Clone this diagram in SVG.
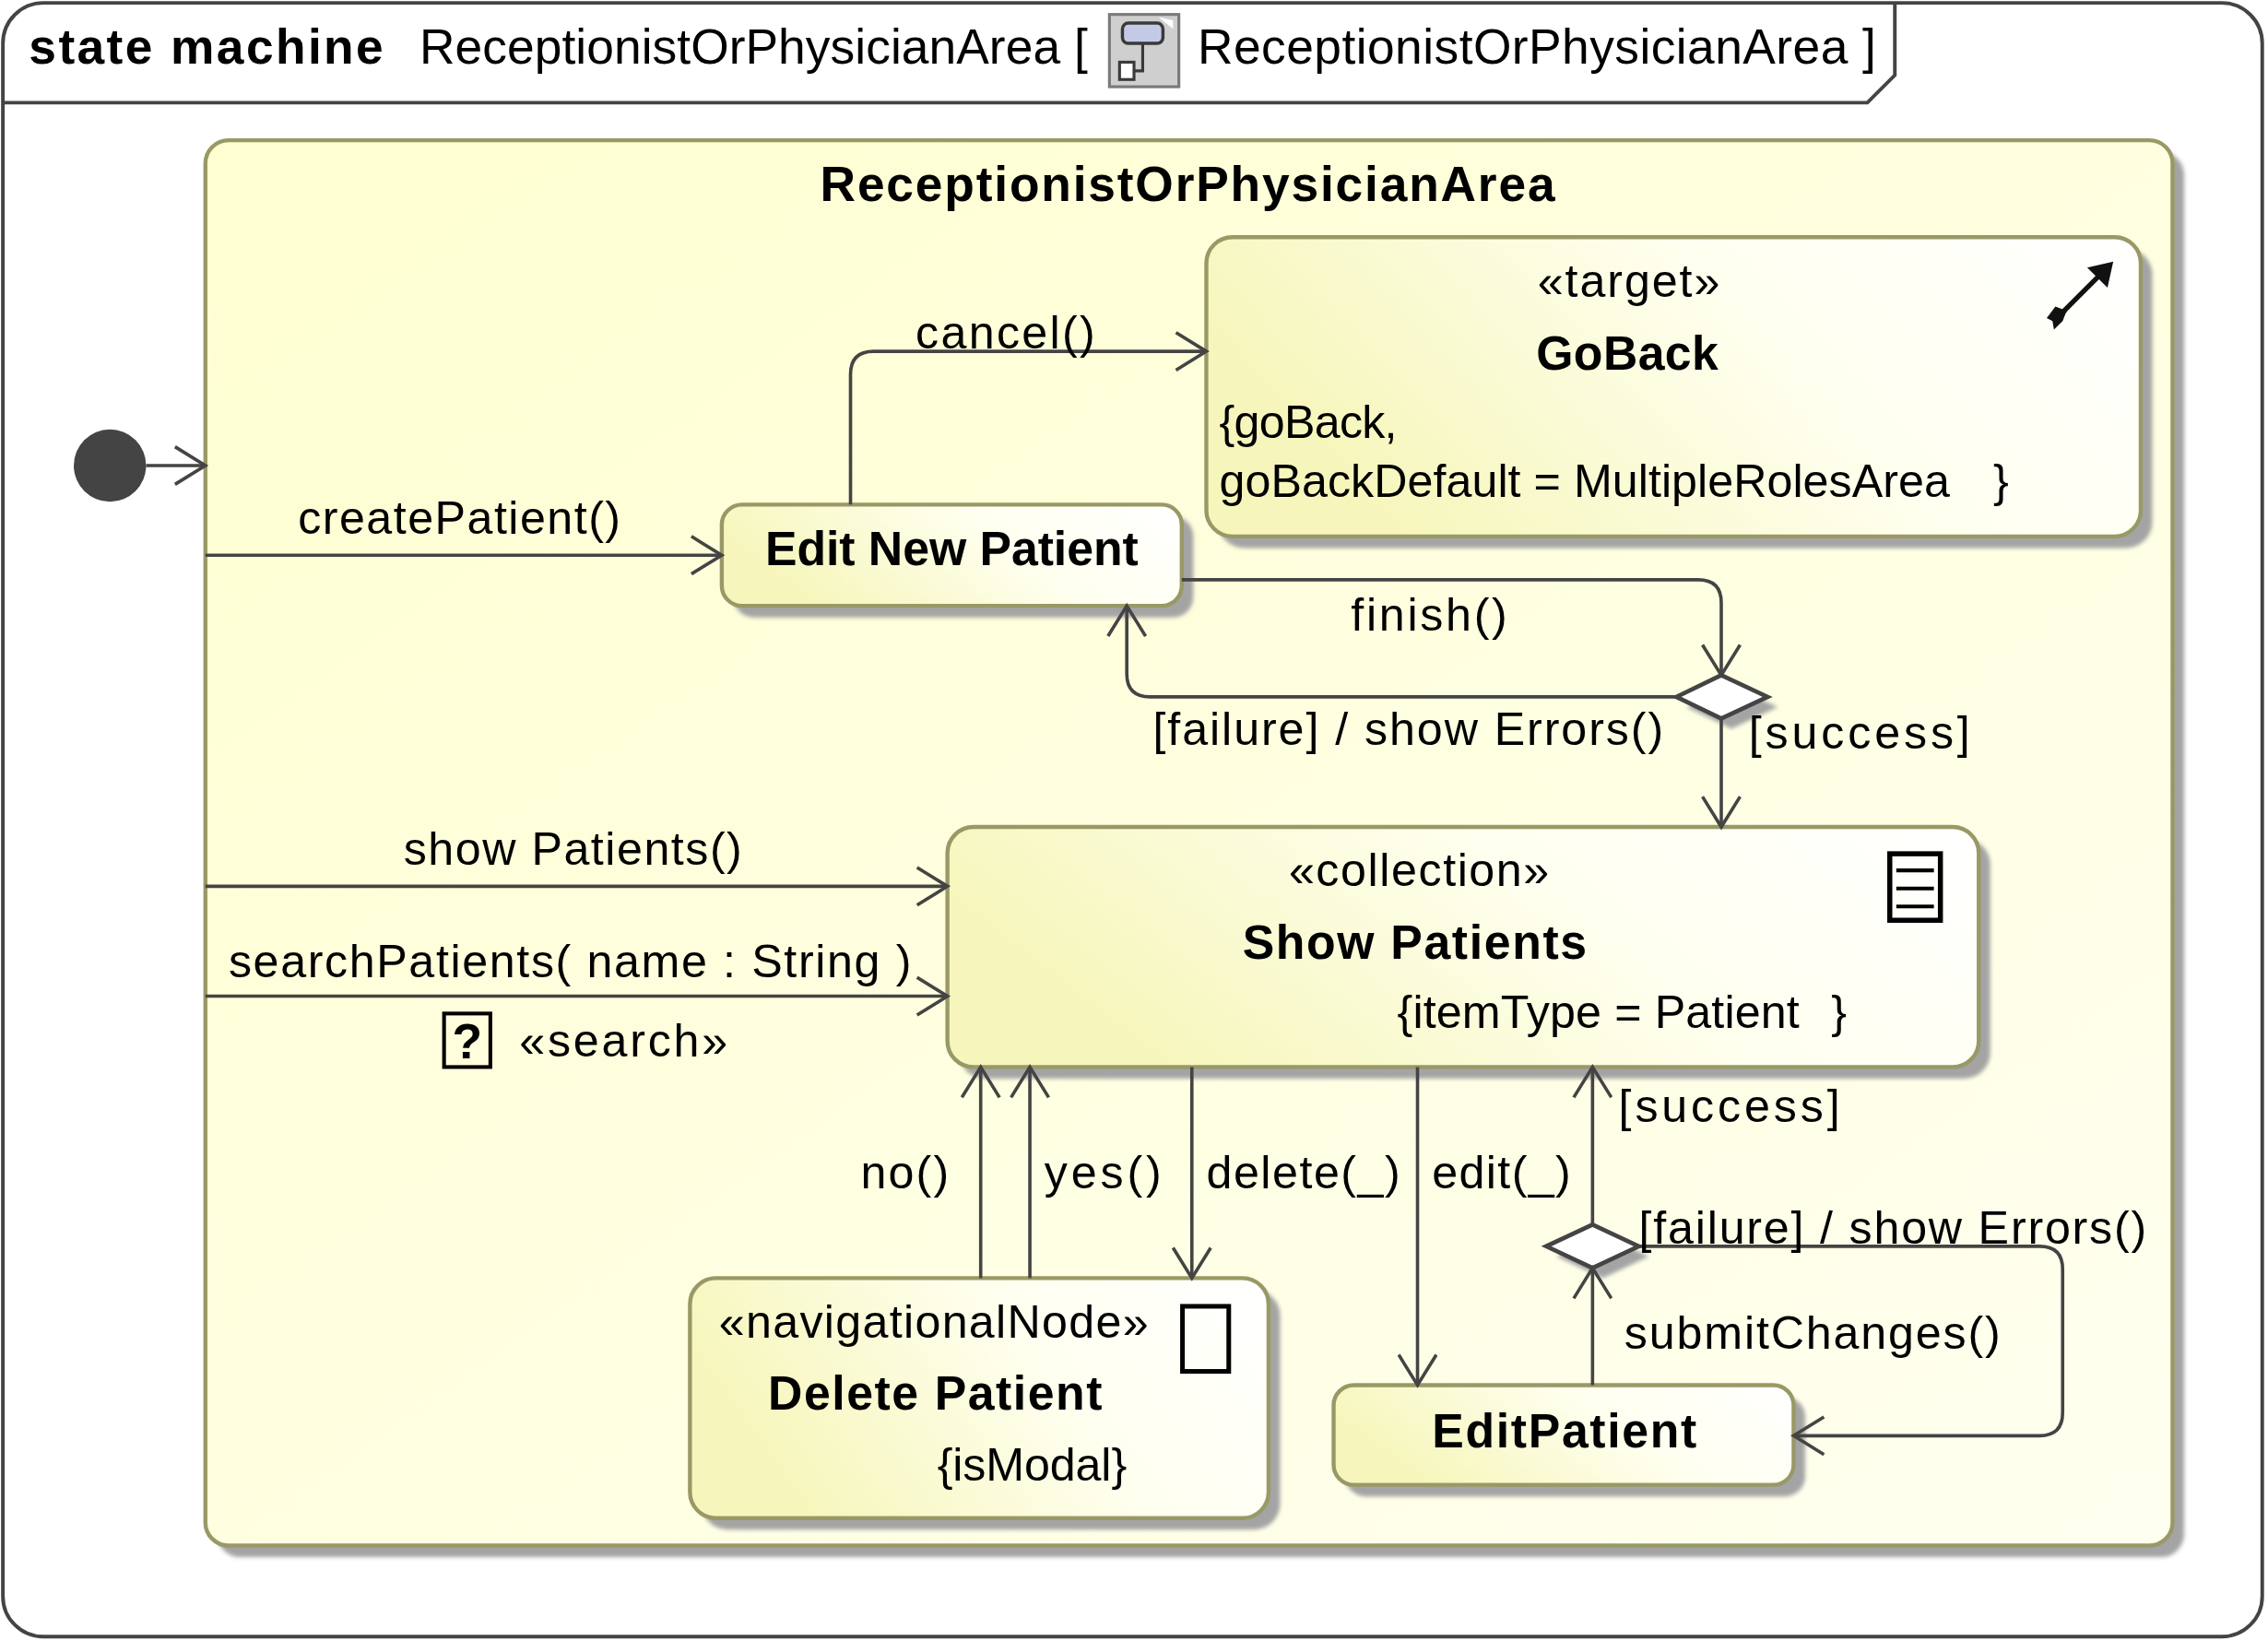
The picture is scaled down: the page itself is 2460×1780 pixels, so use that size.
<svg xmlns="http://www.w3.org/2000/svg" width="2460" height="1780" viewBox="0 0 2460 1780">
<defs>
<style>
.t{font-family:"Liberation Sans",Arial,Helvetica,sans-serif;font-size:32px;fill:#000}
.b{font-weight:bold;font-size:33px}
.h{font-size:34px}
.node{stroke:#999966;stroke-width:2.8}
.shadow{fill:#a4a4a4;filter:url(#blur)}
.conn{fill:none;stroke:#444;stroke-width:2.3}
.icon{fill:none;stroke:#000}
</style>
<linearGradient id="gNode" x1="0" y1="0.3" x2="1" y2="0">
<stop offset="0" stop-color="#f6f6bc"/>
<stop offset="0.55" stop-color="#fffff0"/>
<stop offset="1" stop-color="#ffffff"/>
</linearGradient>
<linearGradient id="gArea" x1="0" y1="0" x2="1" y2="1">
<stop offset="0" stop-color="#fefed0"/>
<stop offset="1" stop-color="#fffff0"/>
</linearGradient>
<filter id="blur" x="-5%" y="-5%" width="110%" height="110%">
<feGaussianBlur stdDeviation="1.5"/>
</filter>
<marker id="arr" markerUnits="userSpaceOnUse" viewBox="-24 -14 28 28" markerWidth="28" markerHeight="28" refX="0" refY="0" orient="auto">
<path d="M-21,-13 L0,0 L-21,13" fill="none" stroke="#444" stroke-width="2.3"/>
</marker>
</defs>
<g transform="scale(1.5689,1.5683)">
<g id="frame">
<rect x="2" y="2" width="1562" height="1130" rx="28" fill="#ffffff" stroke="#444" stroke-width="2.5"/>
<path d="M2,71 H1291 L1310,52 V2" fill="none" stroke="#444" stroke-width="2.5"/>
<text class="t h b" x="20" y="44" textLength="245">state machine</text>
<text class="t h" x="290" y="44" textLength="462">ReceptionistOrPhysicianArea [</text>
<g id="sm-icon">
<rect x="767" y="10" width="48" height="50" fill="#cfcfcf" stroke="#7a7a7a" stroke-width="2"/>
<path d="M801,12 L811,20 L811,14 Z" fill="#ffffff"/>
<rect x="776" y="16" width="28" height="14" rx="4" fill="#c4cae6" stroke="#3a3a3a" stroke-width="2.2"/>
<path d="M790,30 V40 H790 V49 H782" fill="none" stroke="#3a3a3a" stroke-width="2"/>
<rect x="774" y="43" width="10" height="12" fill="#ffffff" stroke="#3a3a3a" stroke-width="2"/>
</g>
<text class="t h" x="828" y="44" textLength="469">ReceptionistOrPhysicianArea ]</text>
</g>
<g id="area">
<rect class="shadow" x="150" y="105" width="1360" height="972" rx="16"/>
<rect class="node" x="142" y="97" width="1360" height="972" rx="16" fill="url(#gArea)"/>
<text class="t b" x="567" y="139" textLength="508" style="font-size:34px">ReceptionistOrPhysicianArea</text>
</g>
<g id="initial">
<ellipse cx="76" cy="322" rx="25" ry="25" fill="#444"/>
</g>
<g id="goBack">
<rect class="shadow" x="842" y="172" width="646" height="207" rx="18"/>
<rect class="node" x="834" y="164" width="646" height="207" rx="18" fill="url(#gNode)"/>
<text class="t" x="1063" y="205" textLength="126">«target»</text>
<text class="t b" x="1062" y="256" textLength="126">GoBack</text>
<text class="t" x="843" y="303" textLength="123">{goBack,</text>
<text class="t" x="843" y="344"><tspan textLength="505">goBackDefault = MultipleRolesArea</tspan><tspan x="1378">}</tspan></text>
<g id="goBack-icon">
<line x1="1424" y1="218" x2="1452" y2="190" stroke="#111" stroke-width="3.4"/>
<polygon points="1461,181 1457,199 1443,185" fill="#111"/>
<polygon points="1415,220 1421,212 1426,214 1432,210 1428,217 1426,222 1420,228 1419,222" fill="#111"/>
</g>
</g>
<g id="editNewPatient">
<rect class="shadow" x="507" y="357" width="318" height="70" rx="14"/>
<rect class="node" x="499" y="349" width="318" height="70" rx="14" fill="url(#gNode)"/>
<text class="t b" x="529" y="391" textLength="258">Edit New Patient</text>
</g>
<g id="decision1">
<polygon points="1197,474 1229,489 1197,504 1166,489" fill="#a4a4a4" filter="url(#blur)"/>
<polygon points="1190,467 1222,482 1190,497 1159,482" fill="#ffffff" stroke="#444" stroke-width="3"/>
</g>
<g id="showPatients">
<rect class="shadow" x="663" y="580" width="713" height="166" rx="18"/>
<rect class="node" x="655" y="572" width="713" height="166" rx="18" fill="url(#gNode)"/>
<text class="t" x="891" y="613" textLength="180">«collection»</text>
<text class="t b" x="859" y="663" textLength="238">Show Patients</text>
<text class="t" x="966" y="711"><tspan textLength="278">{itemType = Patient</tspan><tspan x="1266">}</tspan></text>
<g id="collection-icon">
<rect class="icon" x="1306.5" y="590.5" width="35" height="46" stroke-width="3.5"/>
<path d="M1311,602 H1337 M1311,614.5 H1337 M1311,627 H1337" stroke="#000" stroke-width="2.6"/>
</g>
</g>
<g id="deletePatient">
<rect class="shadow" x="485" y="892" width="400" height="166" rx="18"/>
<rect class="node" x="477" y="884" width="400" height="166" rx="18" fill="url(#gNode)"/>
<text class="t" x="497" y="925" textLength="297">«navigationalNode»</text>
<text class="t b" x="531" y="975" textLength="231">Delete Patient</text>
<text class="t" x="648" y="1024" textLength="131">{isModal}</text>
<rect class="icon" x="817.5" y="903.5" width="32" height="45" stroke-width="3.2" fill="#ffffff"/>
</g>
<g id="editPatient">
<rect class="shadow" x="930" y="966" width="318" height="69" rx="14"/>
<rect class="node" x="922" y="958" width="318" height="69" rx="14" fill="url(#gNode)"/>
<text class="t b" x="990" y="1001" textLength="183">EditPatient</text>
</g>
<g id="decision2">
<polygon points="1108,854 1140,869 1108,884 1076,869" fill="#a4a4a4" filter="url(#blur)"/>
<polygon points="1101,847 1133,862 1101,877 1069,862" fill="#ffffff" stroke="#444" stroke-width="3"/>
</g>
<g id="connectors">
<path class="conn" d="M101,322 H142" marker-end="url(#arr)"/>
<path class="conn" d="M142,384 H499" marker-end="url(#arr)"/>
<path class="conn" d="M588,349 V259 Q588,243 604,243 H834" marker-end="url(#arr)"/>
<path class="conn" d="M817,401 H1174 Q1190,401 1190,417 V467" marker-end="url(#arr)"/>
<path class="conn" d="M1159,482 H795 Q779,482 779,466 V419" marker-end="url(#arr)"/>
<path class="conn" d="M1190,497 V572" marker-end="url(#arr)"/>
<path class="conn" d="M142,613 H655" marker-end="url(#arr)"/>
<path class="conn" d="M142,689 H655" marker-end="url(#arr)"/>
<path class="conn" d="M678,884 V738" marker-end="url(#arr)"/>
<path class="conn" d="M712,884 V738" marker-end="url(#arr)"/>
<path class="conn" d="M824,738 V884" marker-end="url(#arr)"/>
<path class="conn" d="M980,738 V958" marker-end="url(#arr)"/>
<path class="conn" d="M1101,958 V877" marker-end="url(#arr)"/>
<path class="conn" d="M1101,847 V738" marker-end="url(#arr)"/>
<path class="conn" d="M1133,862 H1410 Q1426,862 1426,878 V977 Q1426,993 1410,993 H1240" marker-end="url(#arr)"/>
<g id="connector-labels">
<text class="t" x="633" y="241" textLength="124">cancel()</text>
<text class="t" x="206" y="369" textLength="223">createPatient()</text>
<text class="t" x="934" y="436" textLength="108">finish()</text>
<text class="t" x="797" y="515" textLength="353">[failure] / show Errors()</text>
<text class="t" x="1209" y="518" textLength="153">[success]</text>
<text class="t" x="279" y="598" textLength="234">show Patients()</text>
<text class="t" x="158" y="676" textLength="472">searchPatients( name : String )</text>
<rect class="icon" x="307" y="701" width="32" height="37" stroke-width="2.6"/>
<text class="t" x="323" y="732" text-anchor="middle" style="font-size:34px;font-weight:bold">?</text>
<text class="t" x="359" y="731" textLength="144">«search»</text>
<text class="t" x="1119" y="776" textLength="153">[success]</text>
<text class="t" x="595" y="822" textLength="61">no()</text>
<text class="t" x="722" y="822" textLength="81">yes()</text>
<text class="t" x="834" y="822" textLength="134">delete(_)</text>
<text class="t" x="990" y="822" textLength="96">edit(_)</text>
<text class="t" x="1133" y="860" textLength="351">[failure] / show Errors()</text>
<text class="t" x="1123" y="933" textLength="260">submitChanges()</text>
</g>
</g>
</g>
</svg>
